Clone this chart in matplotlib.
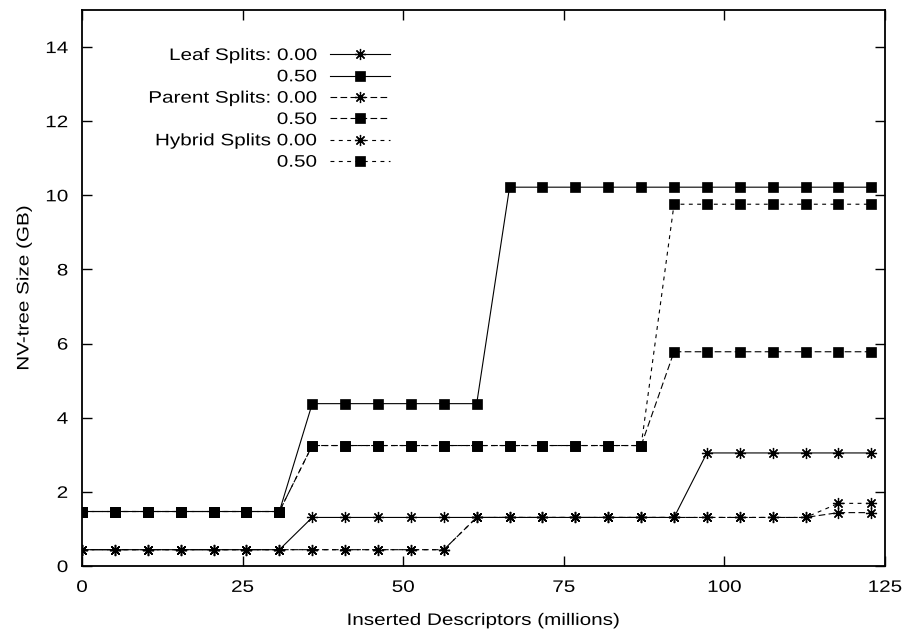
import numpy as np
import matplotlib
matplotlib.use("Agg")
import matplotlib.pyplot as plt
from matplotlib.patheffects import AbstractPathEffect
from matplotlib.transforms import Affine2D

plt.rcParams["font.family"] = ["Liberation Sans", "DejaVu Sans"]
plt.rcParams["font.size"] = 12

# Insertion checkpoints (millions of descriptors)
inserted = [0.00, 5.12, 10.24, 15.36, 20.48, 25.60, 30.72, 35.84, 40.96, 46.08,
            51.20, 56.32, 61.44, 66.56, 71.68, 76.80, 81.92, 87.04, 92.16, 97.28,
            102.40, 107.52, 112.64, 117.76, 122.88]

# NV-tree size (GB) per split policy and threshold
leaf_000 = [0.44] * 7 + [1.31] * 12 + [3.05] * 6
leaf_050 = [1.47] * 7 + [4.38] * 6 + [10.22] * 12
parent_000 = [0.44] * 12 + [1.31] * 11 + [1.44] * 2
parent_050 = [1.47] * 7 + [3.25] * 11 + [5.78] * 7
hybrid_000 = [0.44] * 12 + [1.31] * 11 + [1.69] * 2
hybrid_050 = [1.47] * 7 + [3.25] * 11 + [9.76] * 7

labels = ["Leaf Splits: 0.00", "0.50", "Parent Splits: 0.00", "0.50",
          "Hybrid Splits 0.00", "0.50"]


class Stretch(AbstractPathEffect):
    """Widen text glyphs along the reading direction about an anchor."""

    def __init__(self, factor=1.24, anchor="center", vertical=False):
        super().__init__()
        self.factor = factor
        self.anchor = anchor
        self.vertical = vertical

    def draw_path(self, renderer, gc, tpath, affine, rgbFace=None):
        ext = tpath.get_extents(affine)
        if self.vertical:
            c = (ext.y0 + ext.y1) / 2
            extra = Affine2D().translate(0, -c).scale(1, self.factor).translate(0, c)
        else:
            if self.anchor == "right":
                c = ext.x1
            elif self.anchor == "left":
                c = ext.x0
            else:
                c = (ext.x0 + ext.x1) / 2
            extra = Affine2D().translate(-c, 0).scale(self.factor, 1).translate(c, 0)
        renderer.draw_path(gc, tpath, affine + extra, rgbFace)


star = (8, 2, 0)
dash = (0, (6, 3))
dot = (0, (3.5, 4))
series = [
    (leaf_000, "-", star),
    (leaf_050, "-", "s"),
    (parent_000, dash, star),
    (parent_050, dash, "s"),
    (hybrid_000, dot, star),
    (hybrid_050, dot, "s"),
]

fig = plt.figure(figsize=(9.05, 6.34), dpi=100)
ax = fig.add_axes([82 / 905, 1 - 566 / 634, (885 - 82) / 905, (566 - 10) / 634])

for (vals, ls, mk), lab in zip(series, labels):
    is_star = mk == star
    ax.plot(inserted, vals, linestyle=ls, color="black", linewidth=0.8,
            marker=mk, markersize=8 if is_star else 6.5,
            markeredgewidth=0.9 if is_star else 0.5,
            markerfacecolor="black", markeredgecolor="black", label=lab)

ax.set_xlim(0, 125)
ax.set_ylim(0, 15)
ax.set_xticks([0, 25, 50, 75, 100, 125])
ax.set_yticks([0, 2, 4, 6, 8, 10, 12, 14])
ax.tick_params(direction="in", length=7, width=1.0, top=True, right=True,
               labelsize=12)
ax.tick_params(axis="x", pad=10)
ax.tick_params(axis="y", pad=10)
for sp in ax.spines.values():
    sp.set_linewidth(1.3)

xl = ax.set_xlabel("Inserted Descriptors (millions)", fontsize=12, labelpad=13)
yl = ax.set_ylabel("NV-tree Size (GB)", fontsize=12, labelpad=13)
xl.set_path_effects([Stretch()])
yl.set_path_effects([Stretch(vertical=True)])
for t in ax.get_xticklabels():
    t.set_path_effects([Stretch()])
for t in ax.get_yticklabels():
    t.set_path_effects([Stretch(anchor="right")])

leg = ax.legend(loc="upper right", bbox_to_anchor=((390 - 82) / 803, (566 - 48) / 556),
                markerfirst=False, frameon=False, fontsize=12, handlelength=3.6,
                handletextpad=0.8, labelspacing=0.38, borderaxespad=0.0,
                borderpad=0.0)
for t in leg.get_texts():
    t.set_path_effects([Stretch(anchor="right")])

fig.savefig("out.png", dpi=100)
